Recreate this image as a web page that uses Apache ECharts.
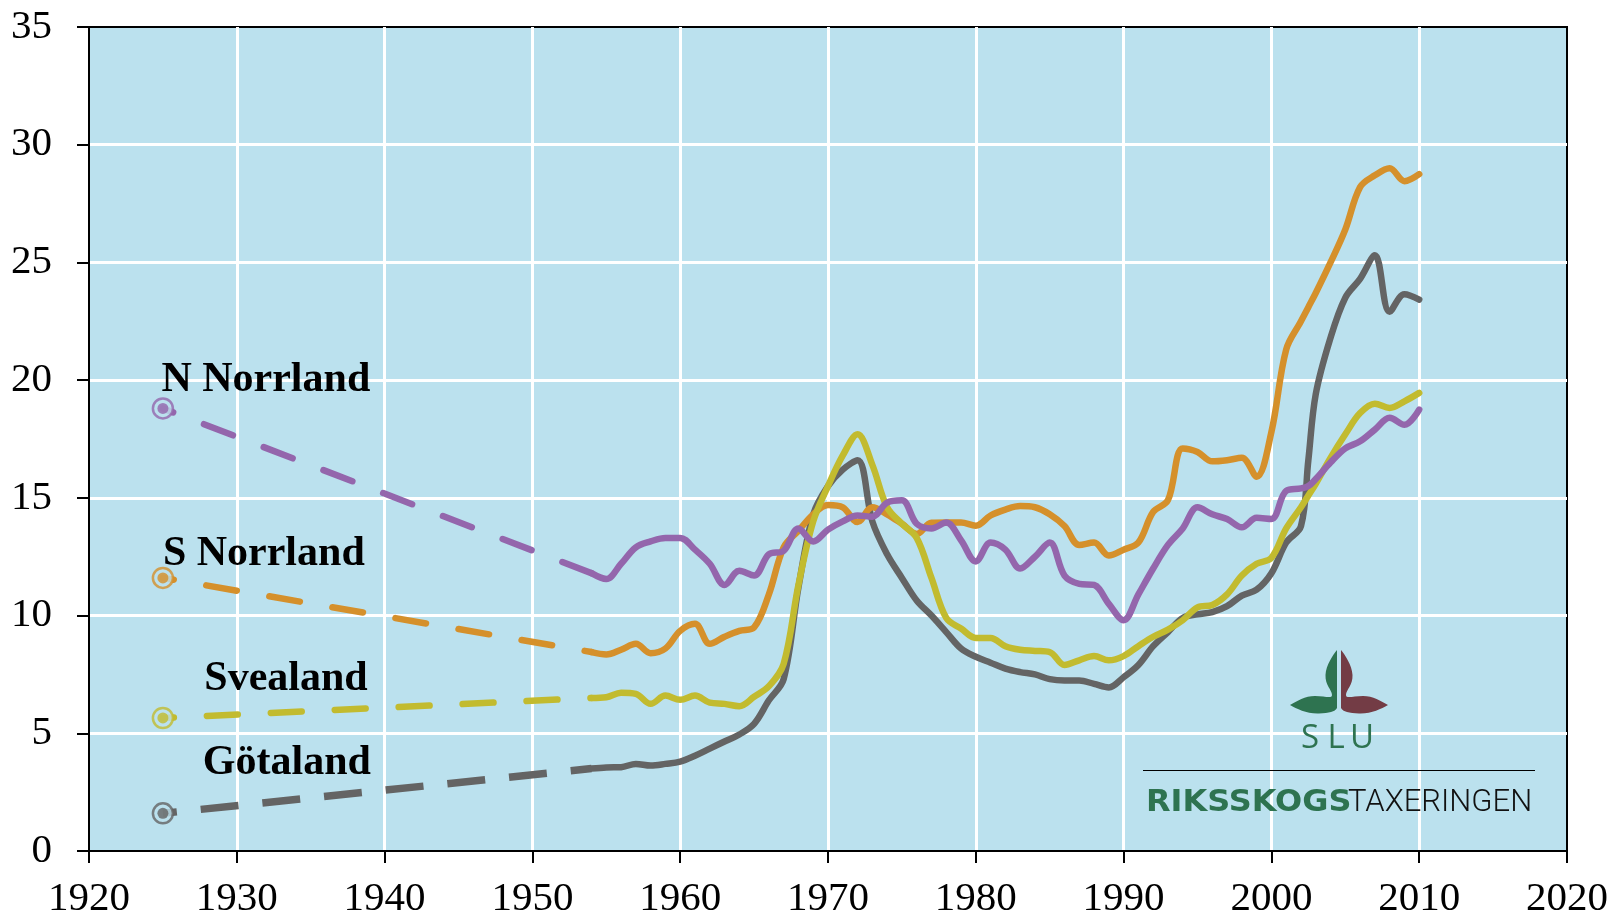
<!DOCTYPE html>
<html>
<head>
<meta charset="utf-8">
<script src="https://cdn.jsdelivr.net/npm/echarts@6/dist/echarts.min.js"></script>
<style>
  html, body { margin: 0; padding: 0; background: #ffffff; }
  #chart { width: 1613px; height: 920px; }
</style>
</head>
<body>
<div id="chart"></div>
<script>
// years of the solid part (yearly, one extra point where Götaland jumps)
const years = [1954, 1955, 1956, 1957, 1958, 1959, 1960, 1961, 1962, 1963, 1964, 1965, 1966, 1967, 1968, 1969,
  1970, 1971, 1972, 1973, 1974, 1975, 1976, 1977, 1978, 1979, 1980, 1981, 1982, 1983, 1984, 1985, 1986, 1987,
  1988, 1989, 1990, 1991, 1992, 1993, 1994, 1995, 1996, 1997, 1998, 1999, 2000, 2001, 2002, 2002.5, 2003, 2004,
  2005, 2006, 2007, 2008, 2009, 2010];

const nNorrland = [11.8, 11.55, 12.2, 12.9, 13.15, 13.3, 13.3, 12.8, 12.2, 11.3, 11.9, 11.7, 12.6, 12.75, 13.7, 13.15,
  13.65, 14.0, 14.25, 14.2, 14.8, 14.9, 13.9, 13.7, 13.95, 13.2, 12.3, 13.1, 12.8, 12.0, 12.5, 13.1, 11.7, 11.35,
  11.3, 10.5, 9.8, 10.9, 12.0, 13.0, 13.7, 14.6, 14.3, 14.1, 13.75, 14.15, 14.1, 15.3, 15.4, 15.5, 15.8, 16.5,
  17.1, 17.4, 17.9, 18.4, 18.1, 18.75];

const sNorrland = [8.45, 8.35, 8.55, 8.8, 8.4, 8.6, 9.35, 9.65, 8.8, 9.1, 9.35, 9.5, 10.9, 12.9, 13.6, 14.3,
  14.7, 14.6, 13.97, 14.6, 14.3, 13.9, 13.47, 13.94, 13.95, 13.95, 13.82, 14.25, 14.5, 14.65, 14.6, 14.3, 13.8, 13.0,
  13.1, 12.55, 12.8, 13.1, 14.4, 14.9, 17.1, 16.95, 16.55, 16.6, 16.7, 15.9, 17.8, 21.3, 22.5, 23.1, 23.7, 25.0,
  26.4, 28.2, 28.7, 29.0, 28.45, 28.75];

const svealand = [6.5, 6.53, 6.72, 6.67, 6.25, 6.6, 6.42, 6.6, 6.3, 6.25, 6.15, 6.55, 7.0, 7.95, 11.3, 14.0,
  15.5, 16.8, 17.7, 16.4, 14.6, 13.9, 13.3, 11.6, 9.9, 9.45, 9.05, 9.05, 8.7, 8.55, 8.5, 8.45, 7.9, 8.1,
  8.28, 8.1, 8.28, 8.7, 9.1, 9.4, 9.8, 10.35, 10.45, 10.9, 11.7, 12.2, 12.45, 13.7, 14.6, 15.1, 15.6, 16.7,
  17.7, 18.6, 19.0, 18.82, 19.1, 19.46];

const gotaland = [3.5, 3.55, 3.56, 3.7, 3.63, 3.7, 3.8, 4.05, 4.35, 4.65, 4.95, 5.4, 6.4, 7.3, 11.2, 14.3,
  15.5, 16.2, 16.6, 14.0, 12.6, 11.6, 10.64, 10.0, 9.3, 8.6, 8.25, 8.0, 7.75, 7.6, 7.5, 7.3, 7.24, 7.24,
  7.1, 6.95, 7.38, 7.9, 8.7, 9.3, 9.9, 10.05, 10.15, 10.4, 10.85, 11.1, 11.8, 13.1, 13.8, 16.6, 19.4, 21.8,
  23.5, 24.3, 25.3, 22.9, 23.65, 23.42];

// single 1925 estimate joined to the series by a dashed line
const startYear = 1925;
const regionNames = ['N Norrland', 'S Norrland', 'Svealand', 'Götaland'];
const startValues = [18.8, 11.6, 5.65, 1.6];

const xTicks = { min: 1920, max: 2020, step: 10 };
const yTicks = { min: 0, max: 35, step: 5 };

const regionValues = [nNorrland, sNorrland, svealand, gotaland];
const colors = ['#9466ac', '#d5902b', '#c2bb2f', '#646464'];
const bg = '#bbe1ee';
// where each region name sits (data coords, text left-aligned)
const labelAnchors = [[1924.9, 20.0], [1925.0, 12.6], [1927.8, 7.3], [1927.7, 3.75]];

const series = [];
const drawOrder = [3, 1, 2, 0];
drawOrder.forEach(function (i) {
  const vals = regionValues[i];
  series.push({
    name: regionNames[i] + ' dashed',
    type: 'line',
    data: [[startYear, startValues[i]], [years[0], vals[0]]],
    symbol: 'none',
    silent: true,
    z: 2,
    lineStyle: {
      color: colors[i],
      width: i === 3 ? 7.5 : 6.5,
      type: i === 3 ? [38, 24] : [31, 33],
      dashOffset: i === 3 ? 24 : 20,
      cap: i === 3 ? 'butt' : 'round'
    }
  });
  series.push({
    name: regionNames[i],
    type: 'line',
    data: years.map(function (y, k) { return [y, vals[k]]; }),
    symbol: 'none',
    smooth: 0.35,
    z: 3,
    lineStyle: { color: colors[i], width: 6.5, cap: 'round', join: 'round' }
  });
});

// start markers: ring + dot
series.push({
  type: 'scatter',
  z: 4,
  symbol: 'circle',
  symbolSize: 20,
  data: startValues.map(function (v, i) {
    return { value: [startYear, v], itemStyle: { color: bg, borderColor: colors[i], borderWidth: 2.5 } };
  })
});
series.push({
  type: 'scatter',
  z: 5,
  symbol: 'circle',
  symbolSize: 11,
  data: startValues.map(function (v, i) {
    return { value: [startYear, v], itemStyle: { color: colors[i] } };
  })
});

// SLU leaves (logo)
const leaf = 'M -2 -55 C -6 -50 -13 -40 -13.5 -30 C -14 -20 -7 -15 -7 -10 C -7 -6 -14 -9 -24 -9 ' +
  'C -34 -9 -42 -4 -49 0 C -42 4 -32 9 -20 8.5 C -10 8 -4 7 -2 3 Z';
series.push({
  type: 'custom',
  coordinateSystem: 'none',
  silent: true,
  z: 10,
  data: [[0]],
  renderItem: function () {
    return {
      type: 'group',
      children: [
        { type: 'path', x: 1339, y: 705, shape: { pathData: leaf }, style: { fill: '#2e7350' } },
        { type: 'path', x: 1339, y: 705, scaleX: -1, shape: { pathData: leaf }, style: { fill: '#733c45' } }
      ]
    };
  }
});

const logo = [
  { type: 'text', x: 1310, y: 739, z: 10, style: { text: 'S', fill: '#2e7350', font: '33px "Open Sans"', align: 'center', verticalAlign: 'middle' } },
  { type: 'text', x: 1336, y: 739, z: 10, style: { text: 'L', fill: '#2e7350', font: '33px "Open Sans"', align: 'center', verticalAlign: 'middle' } },
  { type: 'text', x: 1362, y: 739, z: 10, style: { text: 'U', fill: '#2e7350', font: '33px "Open Sans"', align: 'center', verticalAlign: 'middle' } },
  { type: 'line', z: 10, shape: { x1: 1143, y1: 770.5, x2: 1535, y2: 770.5 }, style: { stroke: '#000', lineWidth: 1 } },
  { type: 'text', x: 1146, y: 803, z: 10, scaleX: 1.03, style: { text: 'RIKSSKOGS', fill: '#2e7350', font: 'bold 31px "DejaVu Sans"', verticalAlign: 'middle' } },
  { type: 'text', x: 1348, y: 803, z: 10, style: { text: 'TAXERINGEN', fill: '#111', font: '300 31px Roboto', verticalAlign: 'middle' } }
];

const chart = echarts.init(document.getElementById('chart'));
chart.setOption({
  animation: false,
  backgroundColor: '#ffffff',
  grid: {
    show: true,
    left: 89,
    right: 46,
    top: 27,
    bottom: 68,
    backgroundColor: bg,
    borderColor: '#000',
    borderWidth: 2
  },
  xAxis: {
    type: 'value',
    min: xTicks.min,
    max: xTicks.max,
    interval: xTicks.step,
    axisLine: { show: true, onZero: false, lineStyle: { color: '#000', width: 2 } },
    axisTick: { show: true, inside: false, length: 12, lineStyle: { color: '#000', width: 2 } },
    axisLabel: {
      margin: 28, color: '#000', fontFamily: 'Liberation Serif', fontSize: 41,
      formatter: function (v) { return String(v); }
    },
    splitLine: { show: true, showMinLine: false, showMaxLine: false, lineStyle: { color: '#ffffff', width: 3 } }
  },
  yAxis: {
    type: 'value',
    min: yTicks.min,
    max: yTicks.max,
    interval: yTicks.step,
    axisLine: { show: true, lineStyle: { color: '#000', width: 2 } },
    axisTick: { show: true, inside: false, length: 12, lineStyle: { color: '#000', width: 2 } },
    axisLabel: { margin: 37, color: '#000', fontFamily: 'Liberation Serif', fontSize: 41 },
    splitLine: { show: true, showMinLine: false, showMaxLine: false, lineStyle: { color: '#ffffff', width: 3 } }
  },
  series: series,
  graphic: logo
});

// region names placed through the axes
const nameTexts = labelAnchors.map(function (p, i) {
  const px = chart.convertToPixel({ gridIndex: 0 }, p);
  return {
    type: 'text', x: px[0], y: px[1], z: 20,
    style: { text: regionNames[i], fill: '#000000', font: 'bold 42px "Liberation Serif"', verticalAlign: 'middle' }
  };
});
chart.setOption({ graphic: logo.concat(nameTexts) });
</script>
</body>
</html>
